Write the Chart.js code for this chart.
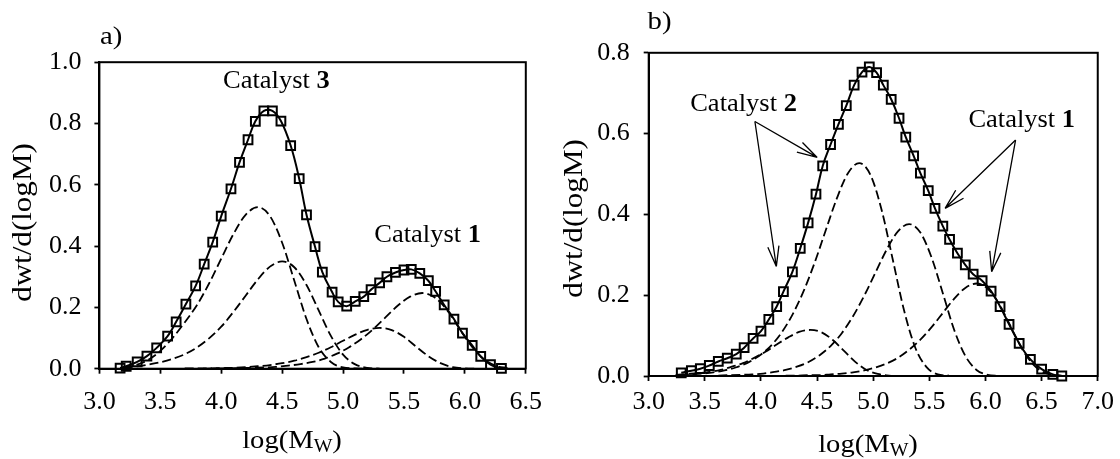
<!DOCTYPE html>
<html>
<head>
<meta charset="utf-8">
<title>dwt/d(logM) vs log(Mw)</title>
<script src="https://cdn.jsdelivr.net/npm/chart.js@4.4.1/dist/chart.umd.min.js"></script>
<style>
  html, body { margin: 0; padding: 0; background: #fff; }
  #page { position: relative; width: 1120px; height: 459px; overflow: hidden; }
  #page canvas { position: absolute; top: 0; }
</style>
</head>
<body>
<div id="page">
  <canvas id="chartA" width="560" height="459" style="left:0"></canvas>
  <canvas id="chartB" width="560" height="459" style="left:560px"></canvas>
</div>
<script>
// ============================================
// 1. DATA
// ============================================

// --- panel a: measured GPC points (squares + fitted line) ---
const aLogM = [3.17, 3.22, 3.31, 3.39, 3.47, 3.56, 3.63, 3.71, 3.79, 3.86, 3.93, 4.00, 4.08, 4.15, 4.22,
               4.28, 4.35, 4.42, 4.49, 4.57, 4.64, 4.70, 4.77, 4.83, 4.91, 4.96, 5.03, 5.10, 5.17, 5.23,
               5.30, 5.36, 5.43, 5.50, 5.56, 5.63, 5.70, 5.76, 5.83, 5.91, 5.98, 6.06, 6.13, 6.21, 6.30];
const aWt   = [0.002, 0.008, 0.022, 0.041, 0.068, 0.106, 0.153, 0.211, 0.270, 0.341, 0.413, 0.498, 0.587, 0.673, 0.747,
               0.807, 0.841, 0.841, 0.808, 0.728, 0.620, 0.502, 0.398, 0.315, 0.250, 0.218, 0.204, 0.220, 0.235, 0.258,
               0.280, 0.300, 0.314, 0.322, 0.324, 0.311, 0.287, 0.252, 0.208, 0.162, 0.116, 0.076, 0.040, 0.013, 0.001];

// --- panel a: deconvoluted site curves (dashed) ---
const aSite1X = [3.2, 3.3, 3.4, 3.5, 3.6, 3.7, 3.8, 3.9, 4.0, 4.1, 4.2, 4.3, 4.4, 4.5, 4.6, 4.7, 4.8, 4.9, 5.0, 5.1, 5.2];
const aSite1Y = [0.004, 0.012, 0.029, 0.058, 0.100, 0.151, 0.207, 0.278, 0.359, 0.439, 0.502, 0.527, 0.498, 0.411,
                 0.287, 0.162, 0.070, 0.022, 0.004, 0.001, 0.000];
const aSite2X = [3.2, 3.3, 3.4, 3.5, 3.6, 3.7, 3.8, 3.9, 4.0, 4.1, 4.2, 4.3, 4.4, 4.5, 4.6, 4.7, 4.8, 4.9, 5.0, 5.1, 5.2, 5.3];
const aSite2Y = [0.003, 0.007, 0.013, 0.021, 0.032, 0.047, 0.069, 0.099, 0.137, 0.185, 0.238, 0.291, 0.333, 0.350,
                 0.331, 0.273, 0.190, 0.107, 0.046, 0.014, 0.003, 0.000];
const aSite3X = [3.7, 3.8, 3.9, 4.0, 4.1, 4.2, 4.3, 4.4, 4.5, 4.6, 4.7, 4.8, 4.9, 5.0, 5.1, 5.2, 5.3, 5.4, 5.5, 5.6,
                 5.7, 5.8, 5.9, 6.0, 6.1];
const aSite3Y = [0.001, 0.001, 0.001, 0.002, 0.003, 0.005, 0.008, 0.012, 0.018, 0.026, 0.038, 0.052, 0.070, 0.091,
                 0.111, 0.127, 0.133, 0.126, 0.104, 0.072, 0.041, 0.018, 0.005, 0.001, 0.000];
const aSite4X = [3.85, 3.95, 4.05, 4.15, 4.25, 4.35, 4.45, 4.55, 4.65, 4.75, 4.85, 4.95, 5.05, 5.15, 5.25, 5.35,
                 5.45, 5.55, 5.65, 5.75, 5.85, 5.95, 6.05, 6.15, 6.25, 6.35];
const aSite4Y = [0.000, 0.001, 0.001, 0.002, 0.003, 0.004, 0.006, 0.010, 0.015, 0.022, 0.033, 0.049, 0.070, 0.097,
                 0.130, 0.168, 0.206, 0.235, 0.247, 0.233, 0.193, 0.134, 0.076, 0.033, 0.010, 0.002];

// --- panel b: measured GPC points ---
const bLogM = [3.29, 3.38, 3.46, 3.54, 3.62, 3.70, 3.78, 3.85, 3.93, 4.00, 4.07, 4.14, 4.20, 4.28, 4.35, 4.42,
               4.49, 4.55, 4.62, 4.69, 4.76, 4.83, 4.90, 4.965, 5.03, 5.09, 5.16, 5.23, 5.29, 5.36, 5.42, 5.49,
               5.55, 5.62, 5.68, 5.75, 5.82, 5.89, 5.97, 6.05, 6.13, 6.21, 6.30, 6.40, 6.50, 6.60, 6.68];
const bWt   = [0.008, 0.013, 0.018, 0.026, 0.036, 0.044, 0.054, 0.070, 0.093, 0.111, 0.140, 0.172, 0.209, 0.258, 0.316, 0.379,
               0.450, 0.520, 0.573, 0.623, 0.669, 0.720, 0.752, 0.765, 0.751, 0.720, 0.685, 0.638, 0.591, 0.545, 0.502, 0.459,
               0.415, 0.371, 0.338, 0.304, 0.275, 0.252, 0.236, 0.210, 0.172, 0.128, 0.081, 0.041, 0.017, 0.004, 0.000];

// --- panel b: deconvoluted site curves (dashed) ---
const bSite1X = [3.24, 3.34, 3.44, 3.54, 3.64, 3.74, 3.84, 3.94, 4.04, 4.14, 4.24, 4.34, 4.44, 4.54, 4.64, 4.74,
                 4.84, 4.94, 5.04, 5.14, 5.24];
const bSite1Y = [0.003, 0.005, 0.007, 0.010, 0.015, 0.023, 0.032, 0.045, 0.060, 0.078, 0.095, 0.109, 0.114, 0.108,
                 0.089, 0.062, 0.035, 0.015, 0.005, 0.001, 0.000];
const bSite2X = [3.275, 3.375, 3.475, 3.575, 3.675, 3.775, 3.875, 3.975, 4.075, 4.175, 4.275, 4.375, 4.475, 4.575,
                 4.675, 4.775, 4.875, 4.975, 5.075, 5.175, 5.275, 5.375, 5.475, 5.575, 5.675];
const bSite2Y = [0.002, 0.004, 0.006, 0.009, 0.014, 0.021, 0.032, 0.048, 0.071, 0.104, 0.149, 0.207, 0.278, 0.359,
                 0.439, 0.502, 0.527, 0.498, 0.411, 0.287, 0.162, 0.070, 0.022, 0.004, 0.001];
const bSite3X = [3.62, 3.72, 3.82, 3.92, 4.02, 4.12, 4.22, 4.32, 4.42, 4.52, 4.62, 4.72, 4.82, 4.92, 5.02, 5.12,
                 5.22, 5.32, 5.42, 5.52, 5.62, 5.72, 5.82, 5.92, 6.02, 6.12];
const bSite3Y = [0.001, 0.002, 0.003, 0.004, 0.006, 0.010, 0.015, 0.023, 0.034, 0.051, 0.074, 0.106, 0.148, 0.199,
                 0.256, 0.313, 0.358, 0.376, 0.355, 0.293, 0.205, 0.115, 0.050, 0.015, 0.003, 0.000];
const bSite4X = [4.22, 4.32, 4.42, 4.52, 4.62, 4.72, 4.82, 4.92, 5.02, 5.12, 5.22, 5.32, 5.42, 5.52, 5.62, 5.72,
                 5.82, 5.92, 6.02, 6.12, 6.22, 6.32, 6.42, 6.52, 6.62, 6.72];
const bSite4Y = [0.001, 0.001, 0.002, 0.002, 0.004, 0.006, 0.009, 0.014, 0.021, 0.031, 0.045, 0.065, 0.090, 0.121,
                 0.156, 0.191, 0.218, 0.229, 0.216, 0.179, 0.125, 0.070, 0.030, 0.009, 0.002, 0.000];

// --- tick labels ---
const aTicksX = [3.0, 3.5, 4.0, 4.5, 5.0, 5.5, 6.0, 6.5];
const aTicksY = [0.0, 0.2, 0.4, 0.6, 0.8, 1.0];
const bTicksX = [3.0, 3.5, 4.0, 4.5, 5.0, 5.5, 6.0, 6.5, 7.0];
const bTicksY = [0.0, 0.2, 0.4, 0.6, 0.8];

// ============================================
// 2. HELPERS
// ============================================
const SERIF = '"Liberation Serif", "Times New Roman", serif';
const pts = (xs, ys) => xs.map((x, i) => ({ x, y: ys[i] }));
const fontOf = r => (r.bold ? 'bold ' : '') + r.size + 'px ' + SERIF;

// draw a run of text pieces (mixed weight / subscript), slightly widened like the original
function drawRuns(ctx, runs, x, y, sx, align) {
    ctx.save();
    ctx.translate(x, y);
    ctx.scale(sx, 1);
    ctx.textAlign = 'left';
    ctx.textBaseline = 'alphabetic';
    let total = 0;
    runs.forEach(r => { ctx.font = fontOf(r); total += ctx.measureText(r.t).width; });
    let cx = align === 'center' ? -total / 2 : 0;
    runs.forEach(r => {
        ctx.font = fontOf(r);
        ctx.fillText(r.t, cx, r.dy || 0);
        cx += ctx.measureText(r.t).width;
    });
    ctx.restore();
}

function drawArrow(ctx, x0, y0, x1, y1) {
    const ang = Math.atan2(y0 - y1, x0 - x1);
    const len = 21, spread = 0.27;
    ctx.beginPath();
    ctx.moveTo(x0, y0);
    ctx.lineTo(x1, y1);
    [-1, 1].forEach(s => {
        ctx.moveTo(x1, y1);
        ctx.lineTo(x1 + len * Math.cos(ang + s * spread), y1 + len * Math.sin(ang + s * spread));
    });
    ctx.stroke();
}

// frame box, axis titles, catalyst labels, arrows
const notesPlugin = {
    id: 'notes',
    afterDraw(chart, args, o) {
        const { ctx, chartArea: area, scales } = chart;
        const xs = scales.x, ys = scales.y;
        ctx.save();
        ctx.strokeStyle = '#000';
        ctx.fillStyle = '#000';
        ctx.lineWidth = 2;
        ctx.strokeRect(area.left, area.top, area.right - area.left, area.bottom - area.top);

        drawRuns(ctx, [{ t: o.letter.text, size: 25 }], o.letter.x, o.letter.y, 1.15, 'left');

        drawRuns(ctx, [
            { t: 'log(M', size: 26 },
            { t: 'W', size: 18, dy: 4 },
            { t: ')', size: 26 },
        ], o.xTitle.cx, o.xTitle.y, 1.1, 'center');

        ctx.save();
        ctx.translate(o.yTitle.x, o.yTitle.cy);
        ctx.rotate(-Math.PI / 2);
        drawRuns(ctx, [{ t: 'dwt/d(logM)', size: 27 }], 0, 0, 1.15, 'center');
        ctx.restore();

        o.labels.forEach(l => {
            drawRuns(ctx, [
                { t: 'Catalyst ', size: 25 },
                { t: l.num, size: 25, bold: true },
            ], xs.getPixelForValue(l.x), ys.getPixelForValue(l.y), 1.06, 'center');
        });

        ctx.lineWidth = 1.3;
        o.arrows.forEach(a => drawArrow(ctx,
            xs.getPixelForValue(a[0]), ys.getPixelForValue(a[1]),
            xs.getPixelForValue(a[2]), ys.getPixelForValue(a[3])));
        ctx.restore();
    },
};

function buildDatasets(logM, wt, sites) {
    const sets = [{
        data: pts(logM, wt),
        borderColor: '#000',
        borderWidth: 2,
        tension: 0.4,
        pointStyle: 'rect',
        pointRadius: 6.2,
        pointBorderWidth: 2,
        pointBorderColor: '#000',
        pointBackgroundColor: 'rgba(0,0,0,0)',
        clip: false,
    }];
    sites.forEach(s => sets.push({
        data: pts(s[0], s[1]),
        borderColor: '#000',
        borderWidth: 1.8,
        borderDash: [9, 4],
        pointRadius: 0,
        cubicInterpolationMode: 'monotone',
    }));
    return sets;
}

function buildOptions(p) {
    const tickFont = { family: SERIF, size: 26 };
    return {
        responsive: false,
        devicePixelRatio: 1,
        animation: false,
        events: [],
        layout: { padding: p.padding },
        plugins: { legend: { display: false }, tooltip: { enabled: false }, notes: p.notes },
        scales: {
            x: {
                type: 'linear',
                min: p.xMin, max: p.xMax,
                afterBuildTicks: s => { s.ticks = p.xTicks.map(v => ({ value: v })); },
                afterFit: s => { s.height = p.xHeight; },
                ticks: { font: tickFont, color: '#000', padding: p.xPad, maxRotation: 0, autoSkip: false,
                         callback: v => Number(v).toFixed(1) },
                grid: { drawOnChartArea: false, drawTicks: true, tickLength: 5, color: '#000', tickWidth: 1.8 },
                border: { display: true, color: '#000', width: 2 },
            },
            y: {
                type: 'linear',
                min: 0, max: p.yMax,
                afterBuildTicks: s => { s.ticks = p.yTicks.map(v => ({ value: v })); },
                afterFit: s => { s.width = p.yWidth; },
                ticks: { font: tickFont, color: '#000', padding: p.yPad,
                         callback: v => Number(v).toFixed(1) },
                grid: { drawOnChartArea: false, drawTicks: true, tickLength: 5, color: '#000', tickWidth: 1.8 },
                border: { display: true, color: '#000', width: 2 },
            },
        },
    };
}

// ============================================
// 3. CHARTS
// ============================================
new Chart(document.getElementById('chartA'), {
    type: 'line',
    data: {
        datasets: buildDatasets(aLogM, aWt, [
            [aSite1X, aSite1Y], [aSite2X, aSite2Y], [aSite3X, aSite3Y], [aSite4X, aSite4Y],
        ]),
    },
    options: buildOptions({
        xMin: 3, xMax: 6.5, xTicks: aTicksX, yMax: 1, yTicks: aTicksY,
        padding: { left: 0, top: 62.2, right: 34.2, bottom: 0 },
        yWidth: 99.4, xHeight: 90.3, xPad: 13, yPad: 13,
        notes: {
            letter: { text: 'a)', x: 100, y: 44 },
            xTitle: { cx: 292, y: 448 },
            yTitle: { x: 30.5, cy: 222.5 },
            labels: [
                { num: '3', x: 4.453, y: 0.916 },
                { num: '1', x: 5.694, y: 0.414 },
            ],
            arrows: [],
        },
    }),
    plugins: [notesPlugin],
});

new Chart(document.getElementById('chartB'), {
    type: 'line',
    data: {
        datasets: buildDatasets(bLogM, bWt, [
            [bSite1X, bSite1Y], [bSite2X, bSite2Y], [bSite3X, bSite3Y], [bSite4X, bSite4Y],
        ]),
    },
    options: buildOptions({
        xMin: 3, xMax: 7, xTicks: bTicksX, yMax: 0.8, yTicks: bTicksY,
        padding: { left: 0, top: 52.8, right: 21, bottom: 0 },
        yWidth: 88.7, xHeight: 83, xPad: 6, yPad: 14,
        notes: {
            letter: { text: 'b)', x: 87.5, y: 29 },
            xTitle: { cx: 308, y: 452 },
            yTitle: { x: 22, cy: 218.5 },
            labels: [
                { num: '2', x: 3.845, y: 0.657 },
                { num: '1', x: 6.323, y: 0.616 },
            ],
            arrows: [
                [3.946, 0.630, 4.501, 0.541],
                [3.946, 0.630, 4.137, 0.271],
                [6.268, 0.584, 5.640, 0.415],
                [6.268, 0.584, 6.055, 0.258],
            ],
        },
    }),
    plugins: [notesPlugin],
});
</script>
</body>
</html>
